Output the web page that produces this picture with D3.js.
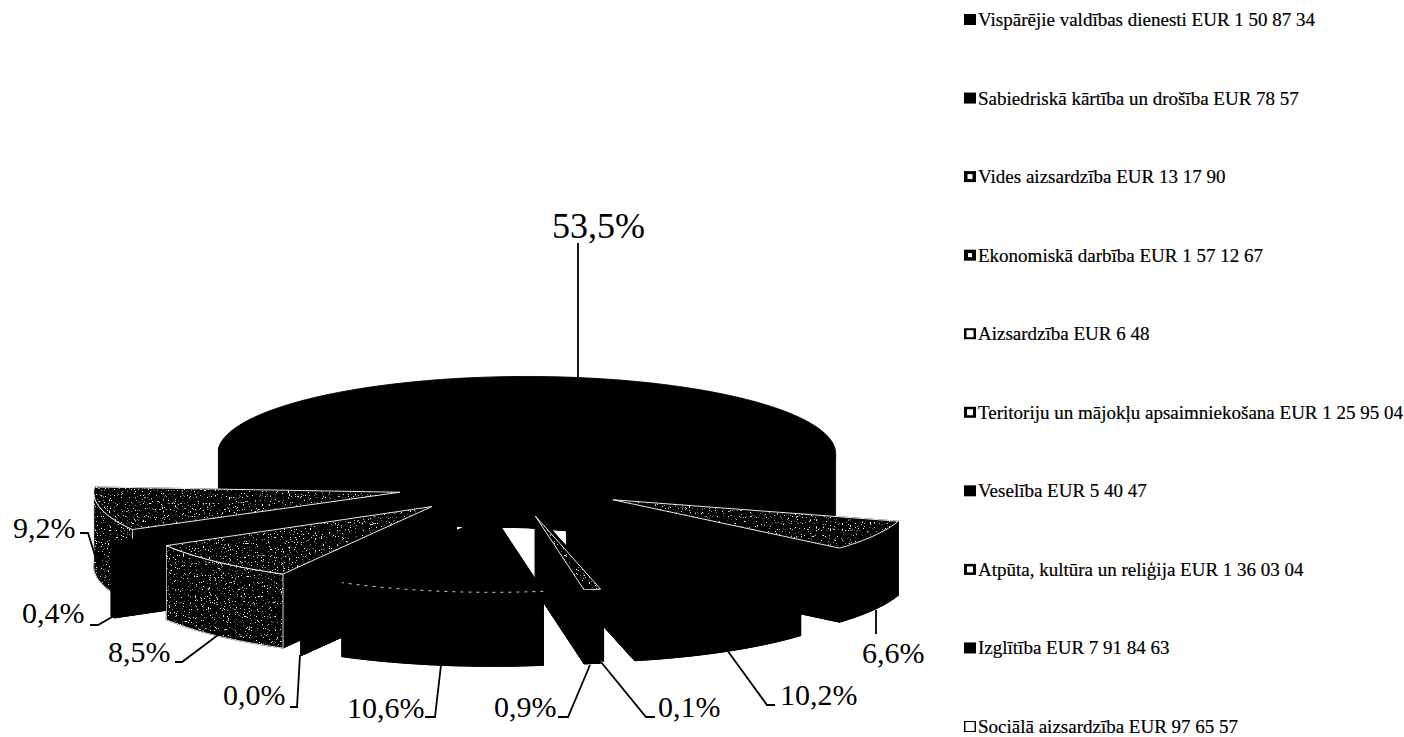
<!DOCTYPE html>
<html>
<head>
<meta charset="utf-8">
<style>
  html, body { margin: 0; background: #fff; }
  text { font-family: "Liberation Serif", serif; fill: #000; }
</style>
<script src="https://cdn.jsdelivr.net/npm/d3@7"></script>
</head>
<body>
<script>
// legend rows, top to bottom, same order as the pie goes clockwise
const categories = [
  "Vispārējie valdības dienesti", "Sabiedriskā kārtība un drošība", "Vides aizsardzība",
  "Ekonomiskā darbība", "Aizsardzība", "Teritoriju un mājokļu apsaimniekošana",
  "Veselība", "Atpūta, kultūra un reliģija", "Izglītība", "Sociālā aizsardzība"
];
const values = [1508734, 7857, 131790, 1571267, 648, 1259504, 54047, 1360304, 7918463, 976557];
const amounts = ["1 50 87 34", "78 57", "13 17 90", "1 57 12 67", "6 48", "1 25 95 04", "5 40 47", "1 36 03 04", "7 91 84 63", "97 65 57"];

// look of each slice: explosion, radius, stippled faces
const explode = [115, 115, 122, 115, 115, 115, 160, 115, 115, 115];
const radii = [308, 300, 300, 312, 322, 308, 300, 306, 309, 298];
const nudge = { 0: [-5, 1], 8: [-6, -4] };
const stippleTop = [false, false, true, false, false, true, false, true, false, true];
const stippleWall = [false, false, false, false, false, true, false, true, false, false];
const swatchHole = [0, 0, 5, 4, 7, 6, 0, 6, 0, 9];

// elbow of each leader line and where its label sits
const labelAt = [
  { x: 780, y: 705, elbow: [[775, 705], [767, 705]], end: [727, 650] },
  { x: 658, y: 717, elbow: [[655, 717], [646, 717]], end: [601, 662] },
  { x: 494, y: 717, elbow: [[558, 717], [568, 717]], end: [590, 665] },
  { x: 347, y: 718, elbow: [[425, 717], [435, 717]], end: [441, 665] },
  { x: 223, y: 705, elbow: [[290, 707], [297, 707]], end: [300, 655] },
  { x: 108, y: 662, elbow: [[175, 662], [182, 662]], end: [218, 635] },
  { x: 22, y: 623, elbow: [[90, 625], [98, 625]], end: [112, 617] },
  { x: 13, y: 538, elbow: [[80, 533], [88, 533]], end: [98, 565] },
  { x: 552, y: 238, elbow: [[578, 243]], end: [578, 377] },
  { x: 862, y: 663, elbow: [[876, 634]], end: [876, 610] }
];

const width = 1404, height = 737;
const cx = 512, cy = 486, tilt = 0.25, depth = 74;

const svg = d3.select("body").append("svg")
  .attr("width", width).attr("height", height)
  .style("display", "block");

// white speckle on top of whatever the filter is applied to
const filter = svg.append("defs").append("filter")
  .attr("id", "stipple").attr("color-interpolation-filters", "sRGB")
  .attr("x", 0).attr("y", 0).attr("width", 1).attr("height", 1);
filter.append("feTurbulence").attr("type", "fractalNoise").attr("baseFrequency", 0.85)
  .attr("numOctaves", 2).attr("seed", 4).attr("result", "n");
filter.append("feColorMatrix").attr("in", "n").attr("type", "matrix")
  .attr("values", "0 0 0 0 1  0 0 0 0 1  0 0 0 0 1  9 0 0 0 -5.7").attr("result", "d");
filter.append("feComposite").attr("in", "d").attr("in2", "SourceAlpha").attr("operator", "in").attr("result", "dots");
const merge = filter.append("feMerge");
merge.append("feMergeNode").attr("in", "SourceGraphic");
merge.append("feMergeNode").attr("in", "dots");

const total = d3.sum(values);
const percent = v => (v / total * 100).toFixed(1).replace(".", ",") + "%";

// first slice starts at lower right, 130.5 deg clockwise from north
const start = 130.5 * Math.PI / 180;
const pie = d3.pie().sort(null).startAngle(start).endAngle(start + 2 * Math.PI);
const arcs = pie(values).map((d, i) => {
  const mid = (d.startAngle + d.endAngle) / 2;
  const n = nudge[i] || [0, 0];
  return {
    ...d, i, mid, r: radii[i],
    ax: cx + explode[i] * Math.sin(mid) + n[0],
    ay: cy - explode[i] * tilt * Math.cos(mid) + n[1]
  };
});

const px = (d, a, r = d.r) => d.ax + r * Math.sin(a);
const py = (d, a, r = d.r) => d.ay - r * tilt * Math.cos(a);
const sweep = d => {
  const n = Math.max(2, Math.ceil((d.endAngle - d.startAngle) * 40));
  return d3.range(n + 1).map(j => d.startAngle + (d.endAngle - d.startAngle) * j / n);
};

const faceLine = d3.line();
const topFace = (d, dy = 0) =>
  faceLine([[d.ax, d.ay + dy], ...sweep(d).map(a => [px(d, a), py(d, a) + dy])]) + "Z";
// only the front half of the rim shows, the back would fold over itself
const wallArea = d => d3.area()
  .defined(a => Math.cos(a) <= 0.001)
  .x(a => px(d, a)).y0(a => py(d, a)).y1(a => py(d, a) + depth)(sweep(d));
const radialWall = (d, a) => d3.area()
  .x(t => d.ax + t * d.r * Math.sin(a))
  .y0(t => d.ay - t * d.r * tilt * Math.cos(a))
  .y1(t => d.ay - t * d.r * tilt * Math.cos(a) + depth)([0, 1]);

// painter's order, far slices first
const order = arcs.slice().sort((a, b) => d3.ascending(-Math.cos(a.mid), -Math.cos(b.mid)));

const slices = svg.append("g").selectAll("g").data(order).join("g");

// thin black stroke on the black faces so no seam shows between them
slices.append("path").attr("d", d => topFace(d, depth)).attr("fill", "#000").attr("stroke", "#000");
slices.append("path").attr("d", d => radialWall(d, d.startAngle)).attr("fill", "#000").attr("stroke", "#000");
slices.append("path").attr("d", d => radialWall(d, d.endAngle)).attr("fill", "#000").attr("stroke", "#000");
slices.append("path").attr("d", wallArea)
  .attr("fill", "#000")
  .attr("stroke", d => stippleWall[d.i] ? "#fff" : "#000")
  .attr("stroke-width", 0.8)
  .attr("filter", d => stippleWall[d.i] ? "url(#stipple)" : null);
slices.append("path").attr("d", d => topFace(d))
  .attr("fill", "#000")
  .attr("stroke", d => stippleTop[d.i] ? "#fff" : "#000")
  .attr("stroke-width", 0.9)
  .attr("filter", d => stippleTop[d.i] ? "url(#stipple)" : null);

// broken white rim on the black front slice
svg.append("path")
  .attr("d", d3.line().x(a => px(arcs[3], a)).y(a => py(arcs[3], a))(sweep(arcs[3])))
  .attr("fill", "none").attr("stroke", "#fff").attr("stroke-width", 0.8)
  .attr("stroke-dasharray", "3 5");

// leader lines
svg.append("g").selectAll("path").data(arcs).join("path")
  .attr("d", d => {
    const l = labelAt[d.i];
    return d3.line()([...l.elbow, l.end]);
  })
  .attr("fill", "none").attr("stroke", "#000").attr("stroke-width", 1.8);

// percent labels
svg.append("g").selectAll("text").data(arcs).join("text")
  .attr("x", d => labelAt[d.i].x).attr("y", d => labelAt[d.i].y)
  .attr("font-size", d => d.i === 8 ? 36 : 30)
  .text(d => percent(d.value));

// legend
const rowY = d3.scaleLinear().domain([0, 9]).range([20, 727]);
const legend = svg.append("g").selectAll("g").data(categories).join("g")
  .attr("transform", (d, i) => `translate(964,${rowY(i)})`);
legend.append("rect").attr("x", 0).attr("y", -6).attr("width", 12).attr("height", 11).attr("fill", "#000");
legend.append("rect")
  .attr("x", (d, i) => 6 - swatchHole[i] / 2).attr("y", (d, i) => -0.5 - swatchHole[i] / 2)
  .attr("width", (d, i) => swatchHole[i]).attr("height", (d, i) => swatchHole[i])
  .attr("fill", "#fff");
legend.append("text").attr("x", 14).attr("y", 6)
  .attr("font-size", 19)
  .attr("stroke", "#000").attr("stroke-width", 0.2)
  .text((d, i) => `${d} EUR ${amounts[i]}`);
</script>
</body>
</html>
